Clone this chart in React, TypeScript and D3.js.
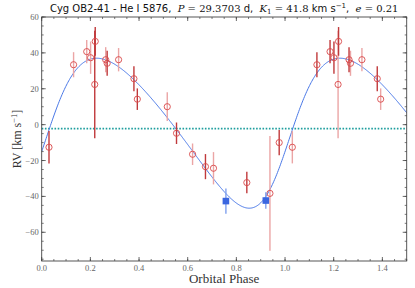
import React from 'react';
import * as d3 from 'd3';

// orbital solution (from title) + fitted systemic velocity / periastron
const K1 = 41.8;
const ecc = 0.21;
const omegaDeg = 253;
const gamma = -2.2;
const periPhase = -0.005;

// He I 5876 measurements: phase, RV, error, shade of first / second copy (1 = dark)
const obsPhase = [0.030, 0.131, 0.185, 0.201, 0.220, 0.218, 0.263, 0.269, 0.316, 0.379, 0.393, 0.516, 0.554, 0.620, 0.673, 0.706, 0.843, 0.938, 0.976];
const obsRv = [-12.6, 33.4, 40.7, 37.3, 46.4, 22.4, 36.2, 34.2, 36.2, 25.6, 14.2, 10.0, -4.8, -16.5, -23.4, -24.3, -32.3, -38.3, -10.0];
const obsErr = [9, 7, 6.5, 9, 8, 30, 7, 7, 6.5, 7, 6, 8, 6, 6, 7, 9, 6, 32, 7];
const shadeA = [1, 0, 0, 0, 1, 1, 0, 1, 0, 1, 1, 0, 1, 0, 1, 0, 1, 0, 1];
const shadeB = [0, 1, 1, 1, 1, 0, 1, 0, 0, 1, 0, 0, 1, 0, 1, 0, 1, 0, 1];

// second data set (filled squares)
const sqPhase = [0.757, 0.921];
const sqRv = [-42.6, -42.3];
const sqErr = [7, 4.6];

const xTicks = [0, 0.2, 0.4, 0.6, 0.8, 1.0, 1.2, 1.4];
const yTicks = [-60, -40, -20, 0, 20, 40, 60];

const W = 415;
const H = 288;
const m = { left: 41.7, right: 8.3, top: 17, bottom: 27 };
const serif = "'Liberation Serif', 'DejaVu Serif', serif";

function keplerRv(p: number) {
  const M = 2 * Math.PI * (p - periPhase);
  let E = M;
  for (let i = 0; i < 30; i++) E = E - (E - ecc * Math.sin(E) - M) / (1 - ecc * Math.cos(E));
  const nu = 2 * Math.atan2(Math.sqrt(1 + ecc) * Math.sin(E / 2), Math.sqrt(1 - ecc) * Math.cos(E / 2));
  const w = (omegaDeg * Math.PI) / 180;
  return gamma + K1 * (Math.cos(nu + w) + ecc * Math.cos(w));
}

const App: React.FC = () => {
  const x = d3.scaleLinear().domain([0, 1.5]).range([m.left, W - m.right]);
  const y = d3.scaleLinear().domain([-76, 60]).range([H - m.bottom, m.top]);

  const curvePts = d3.range(0, 1.5001, 0.003).map((p) => [p, keplerRv(p)] as [number, number]);
  const line = d3.line<[number, number]>().x((d) => x(d[0])).y((d) => y(d[1]));

  const dark = '#c0393b';
  const light = '#eba5a5';
  const ptColor = '#d9484a';
  const axisCol = '#444';

  // copies of each observation at phase and phase+1
  const pts: { p: number; v: number; e: number; s: number }[] = [];
  obsPhase.forEach((p, i) => {
    pts.push({ p, v: obsRv[i], e: obsErr[i], s: shadeA[i] });
    if (p + 1 <= 1.5) pts.push({ p: p + 1, v: obsRv[i], e: obsErr[i], s: shadeB[i] });
  });

  const xMinor = d3.range(0, 1.5001, 0.05);
  const yMinor = d3.range(-75, 60.01, 5);
  const x0 = m.left, x1 = W - m.right, y0 = m.top, y1 = H - m.bottom;
  const fmt = (v: number) => (v < 0 ? '\u2212' + Math.abs(v) : String(v));

  return (
    <svg width={W} height={H} style={{ position: 'absolute', left: 0, top: 0, background: '#fff' }}>
      {/* systemic velocity */}
      <line x1={x0} x2={x1} y1={y(gamma)} y2={y(gamma)} stroke="#1f9e9e" strokeWidth={1.6} strokeDasharray="1.6,1.6" />
      {/* orbit fit */}
      <clipPath id="clip"><rect x={x0} y={y0} width={x1 - x0} height={y1 - y0} /></clipPath>
      <path d={line(curvePts) || ''} fill="none" stroke="#4a78e6" strokeWidth={1} clipPath="url(#clip)" />
      {/* error bars, light first */}
      {[0, 1].map((s) =>
        pts.filter((d) => d.s === s).map((d, i) => (
          <line key={`e${s}-${i}`} x1={x(d.p)} x2={x(d.p)} y1={y(Math.max(-76, d.v - d.e))} y2={y(Math.min(60, d.v + d.e))}
            stroke={s ? dark : light} strokeWidth={1.4} />
        ))
      )}
      {pts.map((d, i) => (
        <circle key={`c${i}`} cx={x(d.p)} cy={y(d.v)} r={3.1} fill="none" stroke={ptColor} strokeWidth={0.9} />
      ))}
      {sqPhase.map((p, i) => (
        <g key={`s${i}`}>
          <line x1={x(p)} x2={x(p)} y1={y(sqRv[i] - sqErr[i])} y2={y(sqRv[i] + sqErr[i])} stroke="#7fa0ee" strokeWidth={1.4} />
          <rect x={x(p) - 3.3} y={y(sqRv[i]) - 3.3} width={6.6} height={6.6} fill="#3a66e0" />
        </g>
      ))}
      {/* frame */}
      <rect x={x0} y={y0} width={x1 - x0} height={y1 - y0} fill="none" stroke={axisCol} strokeWidth={0.9} />
      {xMinor.map((v, i) => (
        <g key={`xm${i}`} stroke={axisCol} strokeWidth={0.7}>
          <line x1={x(v)} x2={x(v)} y1={y1} y2={y1 - 2} />
          <line x1={x(v)} x2={x(v)} y1={y0} y2={y0 + 2} />
        </g>
      ))}
      {yMinor.map((v, i) => (
        <g key={`ym${i}`} stroke={axisCol} strokeWidth={0.7}>
          <line x1={x0} x2={x0 + 2} y1={y(v)} y2={y(v)} />
          <line x1={x1} x2={x1 - 2} y1={y(v)} y2={y(v)} />
        </g>
      ))}
      {xTicks.map((v, i) => (
        <g key={`xt${i}`}>
          <line x1={x(v)} x2={x(v)} y1={y1} y2={y1 - 4} stroke={axisCol} strokeWidth={0.8} />
          <line x1={x(v)} x2={x(v)} y1={y0} y2={y0 + 4} stroke={axisCol} strokeWidth={0.8} />
          <text x={x(v)} y={y1 + 9.5} textAnchor="middle" fontFamily={serif} fontSize={8.5} fill="#666">{v.toFixed(1)}</text>
        </g>
      ))}
      {yTicks.map((v, i) => (
        <g key={`yt${i}`}>
          <line x1={x0} x2={x0 + 4} y1={y(v)} y2={y(v)} stroke={axisCol} strokeWidth={0.8} />
          <line x1={x1} x2={x1 - 4} y1={y(v)} y2={y(v)} stroke={axisCol} strokeWidth={0.8} />
          <text x={x0 - 3} y={y(v) + 3} textAnchor="end" fontFamily={serif} fontSize={8.5} fill="#666">{fmt(v)}</text>
        </g>
      ))}
      <text x={(x0 + x1) / 2} y={283} textAnchor="middle" fontFamily={serif} fontSize={13} fill="#333">Orbital Phase</text>
      <text transform={`translate(21,${(y0 + y1) / 2}) rotate(-90)`} textAnchor="middle" fontFamily={serif} fontSize={12} fill="#333">
        RV [km s<tspan dy={-4.5} fontSize={8.5}>{'\u22121'}</tspan><tspan dy={4.5}>]</tspan>
      </text>
      <text x={(x0 + x1) / 2} y={12} textAnchor="middle" fontFamily="DejaVu Sans" fontSize={10} fill="#111" style={{ whiteSpace: 'pre' }}>
        {'Cyg OB2-41 - He I 5876,  '}
        <tspan fontFamily="DejaVu Serif" fontStyle="italic">P</tspan>
        <tspan fontFamily="DejaVu Serif">{' = 29.3703 '}</tspan>{'d,  '}
        <tspan fontFamily="DejaVu Serif" fontStyle="italic">K</tspan>
        <tspan fontFamily="DejaVu Serif" fontSize={7} dy={2}>1</tspan>
        <tspan fontFamily="DejaVu Serif" dy={-2}>{' = 41.8 '}</tspan>{'km s'}
        <tspan fontSize={7} dy={-4}>{'\u22121'}</tspan>
        <tspan dy={4}>{',  '}</tspan>
        <tspan fontFamily="DejaVu Serif" fontStyle="italic">e</tspan>
        <tspan fontFamily="DejaVu Serif">{' = 0.21'}</tspan>
      </text>
    </svg>
  );
};

export default App;
